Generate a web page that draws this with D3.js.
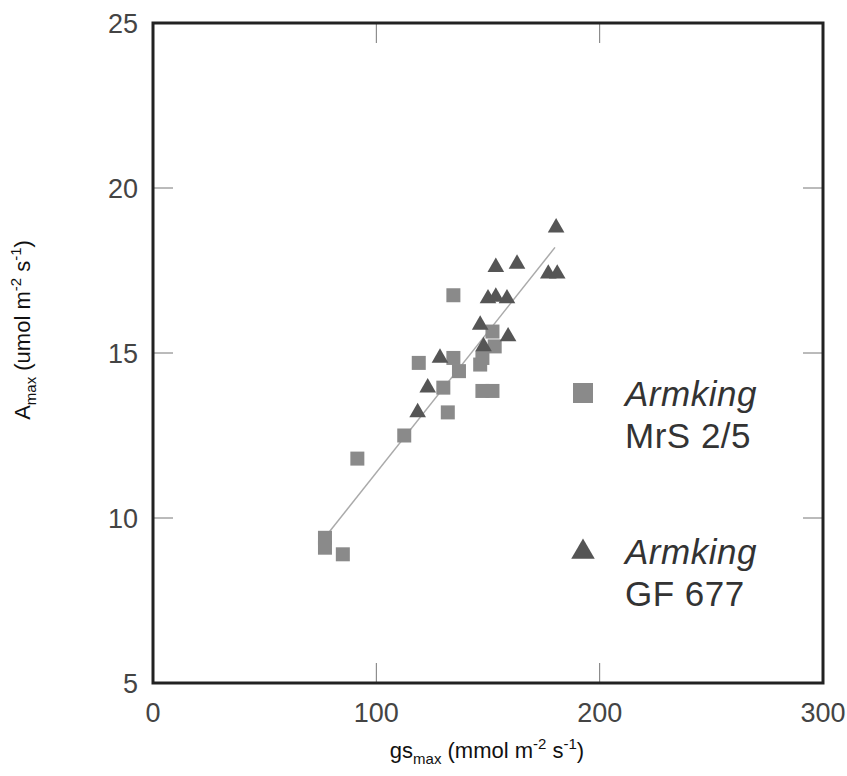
<!DOCTYPE html>
<html>
<head>
<meta charset="utf-8">
<script src="https://cdn.jsdelivr.net/npm/d3@7"></script>
<style>
  body { margin: 0; background: #fff; }
  text { font-family: "Liberation Sans", Arial, sans-serif; }
</style>
</head>
<body>
<div id="chart"></div>
<script>
// Armking on MrS 2/5 (squares)
const mrsGs = [77, 77, 85, 91.5, 112.5, 119, 130, 132, 134.5, 134.5, 137, 146.5, 147.5, 152, 153, 147.5, 152];
const mrsA  = [9.4, 9.1, 8.9, 11.8, 12.5, 14.7, 13.95, 13.2, 16.75, 14.85, 14.45, 14.65, 14.85, 15.65, 15.2, 13.85, 13.85];

// Armking on GF 677 (triangles)
const gfGs = [180.5, 153.5, 163, 177, 181, 150, 153.5, 158.5, 146.5, 159, 128.5, 123, 118.5, 148];
const gfA  = [18.8, 17.6, 17.7, 17.4, 17.4, 16.65, 16.7, 16.65, 15.85, 15.5, 14.85, 13.95, 13.2, 15.2];

// fitted line endpoints
const fitGs = [78, 180];
const fitA  = [9.5, 18.2];

const xTicks = [0, 100, 200, 300];
const yTicks = [5, 10, 15, 20, 25];

const W = 847, H = 776;
const margin = { top: 23, right: 24, bottom: 93, left: 153 };
const width = W - margin.left - margin.right;
const height = H - margin.top - margin.bottom;

const svg = d3.select("#chart").append("svg").attr("width", W).attr("height", H);
const g = svg.append("g").attr("transform", `translate(${margin.left},${margin.top})`);

const x = d3.scaleLinear().domain([0, 300]).range([0, width]);
const y = d3.scaleLinear().domain([5, 25]).range([height, 0]);

// === inner ticks ===
const tickLen = 20;
g.selectAll(".xt").data(xTicks.slice(1, -1)).enter().append("line")
  .attr("x1", d => x(d)).attr("x2", d => x(d))
  .attr("y1", height).attr("y2", height - tickLen)
  .attr("stroke", "#777").attr("stroke-width", 1);
g.selectAll(".xtt").data(xTicks.slice(1, -1)).enter().append("line")
  .attr("x1", d => x(d)).attr("x2", d => x(d))
  .attr("y1", 0).attr("y2", tickLen)
  .attr("stroke", "#777").attr("stroke-width", 1);
g.selectAll(".yt").data(yTicks.slice(1, -1)).enter().append("line")
  .attr("x1", 0).attr("x2", tickLen)
  .attr("y1", d => y(d)).attr("y2", d => y(d))
  .attr("stroke", "#777").attr("stroke-width", 1);
g.selectAll(".ytr").data(yTicks.slice(1, -1)).enter().append("line")
  .attr("x1", width).attr("x2", width - tickLen)
  .attr("y1", d => y(d)).attr("y2", d => y(d))
  .attr("stroke", "#777").attr("stroke-width", 1);

// === tick labels ===
g.selectAll(".xl").data(xTicks).enter().append("text")
  .attr("x", d => x(d)).attr("y", height + 39)
  .attr("text-anchor", "middle")
  .style("font-size", "27px").style("fill", "#444")
  .text(d => d);
g.selectAll(".yl").data(yTicks).enter().append("text")
  .attr("x", -15).attr("y", d => y(d) + 10)
  .attr("text-anchor", "end")
  .style("font-size", "27px").style("fill", "#444")
  .text(d => d);

// === frame ===
g.append("rect").attr("width", width).attr("height", height)
  .attr("fill", "none").attr("stroke", "#222").attr("stroke-width", 3);

// === fit line ===
g.append("line")
  .attr("x1", x(fitGs[0])).attr("y1", y(fitA[0]))
  .attr("x2", x(fitGs[1])).attr("y2", y(fitA[1]))
  .attr("stroke", "#aaa").attr("stroke-width", 1.5);

// === points ===
const sq = 14;
g.selectAll(".sq").data(mrsGs).enter().append("rect")
  .attr("x", (d, i) => x(d) - sq / 2)
  .attr("y", (d, i) => y(mrsA[i]) - sq / 2)
  .attr("width", sq).attr("height", sq)
  .attr("fill", "#8a8a8a");

const tri = d3.symbol().type(d3.symbolTriangle).size(120);
g.selectAll(".tri").data(gfGs).enter().append("path")
  .attr("d", tri)
  .attr("transform", (d, i) => `translate(${x(d)},${y(gfA[i])})`)
  .attr("fill", "#555");

// === legend ===
svg.append("rect").attr("x", 573).attr("y", 383).attr("width", 20).attr("height", 20).attr("fill", "#8a8a8a");
svg.append("path").attr("d", d3.symbol().type(d3.symbolTriangle).size(240))
  .attr("transform", "translate(583,552)").attr("fill", "#555");

const legendText = [
  { y: 406, t: "Armking", it: true },
  { y: 448, t: "MrS 2/5", it: false },
  { y: 564, t: "Armking", it: true },
  { y: 606, t: "GF 677", it: false }
];
svg.selectAll(".lg").data(legendText).enter().append("text")
  .attr("x", 625).attr("y", d => d.y)
  .style("font-size", "35px")
  .style("letter-spacing", "0.5px")
  .style("font-style", d => d.it ? "italic" : "normal")
  .style("fill", "#333")
  .text(d => d.t);

// === axis titles ===
const xt = svg.append("text").attr("x", 487).attr("y", 758)
  .attr("text-anchor", "middle").style("font-size", "22px").style("fill", "#111");
xt.append("tspan").text("gs");
xt.append("tspan").attr("dy", 6).style("font-size", "15px").text("max");
xt.append("tspan").attr("dy", -6).text(" (mmol m");
xt.append("tspan").attr("dy", -9).style("font-size", "15px").text("-2");
xt.append("tspan").attr("dy", 9).text(" s");
xt.append("tspan").attr("dy", -9).style("font-size", "15px").text("-1");
xt.append("tspan").attr("dy", 9).text(")");

const yt = svg.append("text").attr("transform", "translate(30,330) rotate(-90)")
  .attr("text-anchor", "middle").style("font-size", "22px").style("fill", "#111");
yt.append("tspan").text("A");
yt.append("tspan").attr("dy", 6).style("font-size", "15px").text("max");
yt.append("tspan").attr("dy", -6).text(" (umol m");
yt.append("tspan").attr("dy", -9).style("font-size", "15px").text("-2");
yt.append("tspan").attr("dy", 9).text(" s");
yt.append("tspan").attr("dy", -9).style("font-size", "15px").text("-1");
yt.append("tspan").attr("dy", 9).text(")");
</script>
</body>
</html>
